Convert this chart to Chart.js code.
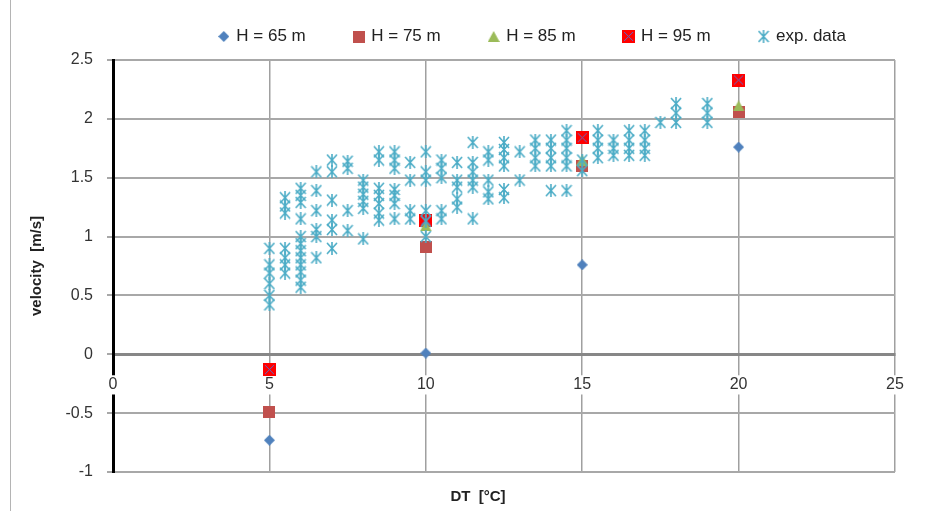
<!DOCTYPE html>
<html>
<head>
<meta charset="utf-8">
<script src="https://cdn.jsdelivr.net/npm/chart.js@4.4.0/dist/chart.umd.min.js"></script>
<style>
  html, body { margin: 0; padding: 0; background: #fff; }
  #wrap { position: relative; width: 930px; height: 511px; }
  #frame { position: absolute; left: 10px; top: 0; width: 1px; height: 511px; background: #b4b4b4; }
</style>
</head>
<body>
<div id="wrap"><canvas id="chart" width="930" height="511"></canvas><div id="frame"></div></div>
<script>
// model results (DT in °C, velocity in m/s)
const dtModel = [5, 10, 15, 20];
const velH65 = [-0.73, 0.01, 0.76, 1.76];
const velH75 = [-0.49, 0.91, 1.60, 2.06];
const velH85 = [null, 1.09, 1.65, 2.11];
const velH95 = [-0.13, 1.14, 1.84, 2.33];

// experimental data, one column per DT value
const expDT = [5, 5.5, 6, 6.5, 7, 7.5, 8, 8.5, 9, 9.5, 10, 10.5, 11, 11.5, 12, 12.5,
               13, 13.5, 14, 14.5, 15, 15.5, 16, 16.5, 17, 17.5, 18, 19];
const expVel = [
  [0.90, 0.76, 0.69, 0.60, 0.50, 0.42],
  [1.33, 1.26, 1.20, 0.90, 0.82, 0.76, 0.69],
  [1.41, 1.35, 1.29, 1.15, 1.00, 0.94, 0.88, 0.82, 0.76, 0.70, 0.63, 0.57],
  [1.55, 1.39, 1.22, 1.06, 1.00, 0.82],
  [1.65, 1.55, 1.31, 1.14, 1.06, 0.90],
  [1.64, 1.58, 1.22, 1.05],
  [1.48, 1.42, 1.36, 1.30, 1.24, 0.98],
  [1.72, 1.65, 1.41, 1.35, 1.28, 1.20, 1.14],
  [1.72, 1.65, 1.58, 1.40, 1.35, 1.28, 1.15],
  [1.63, 1.48, 1.22, 1.15],
  [1.72, 1.55, 1.48, 1.22, 1.13, 1.00],
  [1.65, 1.58, 1.50, 1.22, 1.15],
  [1.63, 1.48, 1.42, 1.32, 1.25],
  [1.80, 1.63, 1.55, 1.48, 1.42, 1.15],
  [1.72, 1.65, 1.48, 1.38, 1.32],
  [1.80, 1.74, 1.67, 1.60, 1.40, 1.33],
  [1.72, 1.48],
  [1.82, 1.75, 1.67, 1.60],
  [1.82, 1.75, 1.67, 1.60, 1.39],
  [1.90, 1.82, 1.75, 1.67, 1.60, 1.39],
  [1.65, 1.56],
  [1.90, 1.82, 1.75, 1.67],
  [1.82, 1.75, 1.69],
  [1.90, 1.82, 1.75, 1.69],
  [1.90, 1.82, 1.75, 1.69],
  [1.97],
  [2.13, 2.05, 1.97],
  [2.13, 2.05, 1.97]
];

const xTicks = [0, 5, 10, 15, 20, 25];
const yTicks = [-1, -0.5, 0, 0.5, 1, 1.5, 2, 2.5];
const seriesNames = ['H = 65 m', 'H = 75 m', 'H = 85 m', 'H = 95 m', 'exp. data'];

// little canvases used as point styles (Excel-like markers)
function marker(w, h, paint) {
  const c = document.createElement('canvas');
  c.width = w; c.height = h;
  paint(c.getContext('2d'), w, h);
  return c;
}
const mDiamond = marker(11, 11, (g, w, h) => {
  g.fillStyle = '#4F81BD';
  g.beginPath(); g.moveTo(w / 2, 0); g.lineTo(w, h / 2); g.lineTo(w / 2, h); g.lineTo(0, h / 2);
  g.closePath(); g.fill();
});
const mSquare = marker(12, 12, (g, w, h) => { g.fillStyle = '#C0504D'; g.fillRect(0, 0, w, h); });
const mTriangle = marker(12, 11, (g, w, h) => {
  g.fillStyle = '#9BBB59';
  g.beginPath(); g.moveTo(w / 2, 0); g.lineTo(w, h); g.lineTo(0, h); g.closePath(); g.fill();
});
const mRedX = marker(13, 13, (g, w, h) => {
  g.fillStyle = '#FF0000'; g.fillRect(0, 0, w, h);
  g.strokeStyle = '#5a6cc8'; g.lineWidth = 1;
  g.beginPath(); g.moveTo(2, 2); g.lineTo(w - 2, h - 2); g.moveTo(w - 2, 2); g.lineTo(2, h - 2); g.stroke();
});
const mStar = marker(12, 13, (g, w, h) => {
  g.strokeStyle = '#4BACC6'; g.lineWidth = 1.6;
  g.beginPath();
  g.moveTo(1, 1); g.lineTo(w - 1, h - 1);
  g.moveTo(w - 1, 1); g.lineTo(1, h - 1);
  g.moveTo(w / 2, 0); g.lineTo(w / 2, h);
  g.stroke();
});

const pts = (ys) => dtModel.map((x, i) => ({ x, y: ys[i] })).filter(p => p.y !== null);
const expPoints = expDT.flatMap((x, i) => expVel[i].map(y => ({ x, y })));

// x axis title sits at the bottom, not next to the crossing axis
const xTitle = {
  id: 'xTitle',
  afterDraw(chart) {
    const c = chart.ctx;
    c.save();
    c.font = 'bold 15px "Liberation Sans", Arial, sans-serif';
    c.fillStyle = '#222';
    c.textAlign = 'center';
    c.textBaseline = 'middle';
    c.fillText('DT  [°C]', 478, 497);
    c.restore();
  }
};
// a little more room under the legend
const legendGap = {
  id: 'legendGap',
  beforeInit(chart) {
    const fit = chart.legend.fit;
    chart.legend.fit = function () { fit.call(this); this.height += 5; };
  }
};

const font = '"Liberation Sans", Arial, sans-serif';

new Chart(document.getElementById('chart'), {
  type: 'scatter',
  data: {
    datasets: [
      { label: seriesNames[0], data: pts(velH65), pointStyle: mDiamond, pointRadius: 6, order: 4 },
      { label: seriesNames[1], data: pts(velH75), pointStyle: mSquare, pointRadius: 6, order: 3 },
      { label: seriesNames[2], data: pts(velH85), pointStyle: mTriangle, pointRadius: 6, order: 1 },
      { label: seriesNames[3], data: pts(velH95), pointStyle: mRedX, pointRadius: 6, order: 2 },
      { label: seriesNames[4], data: expPoints, pointStyle: mStar, pointRadius: 6, order: 0 }
    ]
  },
  options: {
    responsive: false,
    animation: false,
    events: [],
    layout: { padding: { left: 10, right: 35, top: -21, bottom: 39 } },
    plugins: {
      tooltip: { enabled: false },
      legend: {
        position: 'top',
        align: 'end',
        labels: {
          usePointStyle: true,
          pointStyleWidth: 8,
          padding: 49,
          color: '#222',
          font: { family: font, size: 17 },
          sort: (a, b) => a.datasetIndex - b.datasetIndex
        }
      }
    },
    scales: {
      x: {
        type: 'linear',
        position: { y: 0 },
        min: 0, max: 25,
        afterBuildTicks: s => { s.ticks = xTicks.map(v => ({ value: v })); },
        grid: {
          drawTicks: false,
          color: ctx => ctx.tick && ctx.tick.value === 0 ? 'rgba(0,0,0,0)' : '#a0a0a0',
          lineWidth: 1.5
        },
        border: { display: true, color: '#878787', width: 3, z: -1 },
        ticks: {
          padding: 21, color: '#333', font: { family: font, size: 16 }, maxRotation: 0,
          showLabelBackdrop: true, backdropColor: '#fff', backdropPadding: { left: 1, right: 1, top: 0, bottom: 0 },
          callback: v => String(v)
        }
      },
      y: {
        type: 'linear',
        position: 'left',
        min: -1, max: 2.5,
        afterBuildTicks: s => { s.ticks = yTicks.map(v => ({ value: v })); },
        afterFit: s => { s.width = 103; },
        grid: {
          color: ctx => ctx.tick && ctx.tick.value === 0 ? 'rgba(0,0,0,0)' : '#a8a8a8',
          tickColor: '#a8a8a8',
          lineWidth: 2,
          tickLength: 6
        },
        border: { display: true, color: '#000', width: 3, z: -1 },
        ticks: { padding: 14, color: '#333', font: { family: font, size: 16 }, callback: v => String(v) },
        title: {
          display: true,
          text: 'velocity  [m/s]',
          color: '#222',
          font: { family: font, size: 15, weight: 'bold' },
          padding: { top: 18, bottom: 0 }
        }
      }
    }
  },
  plugins: [xTitle, legendGap]
});
</script>
</body>
</html>
